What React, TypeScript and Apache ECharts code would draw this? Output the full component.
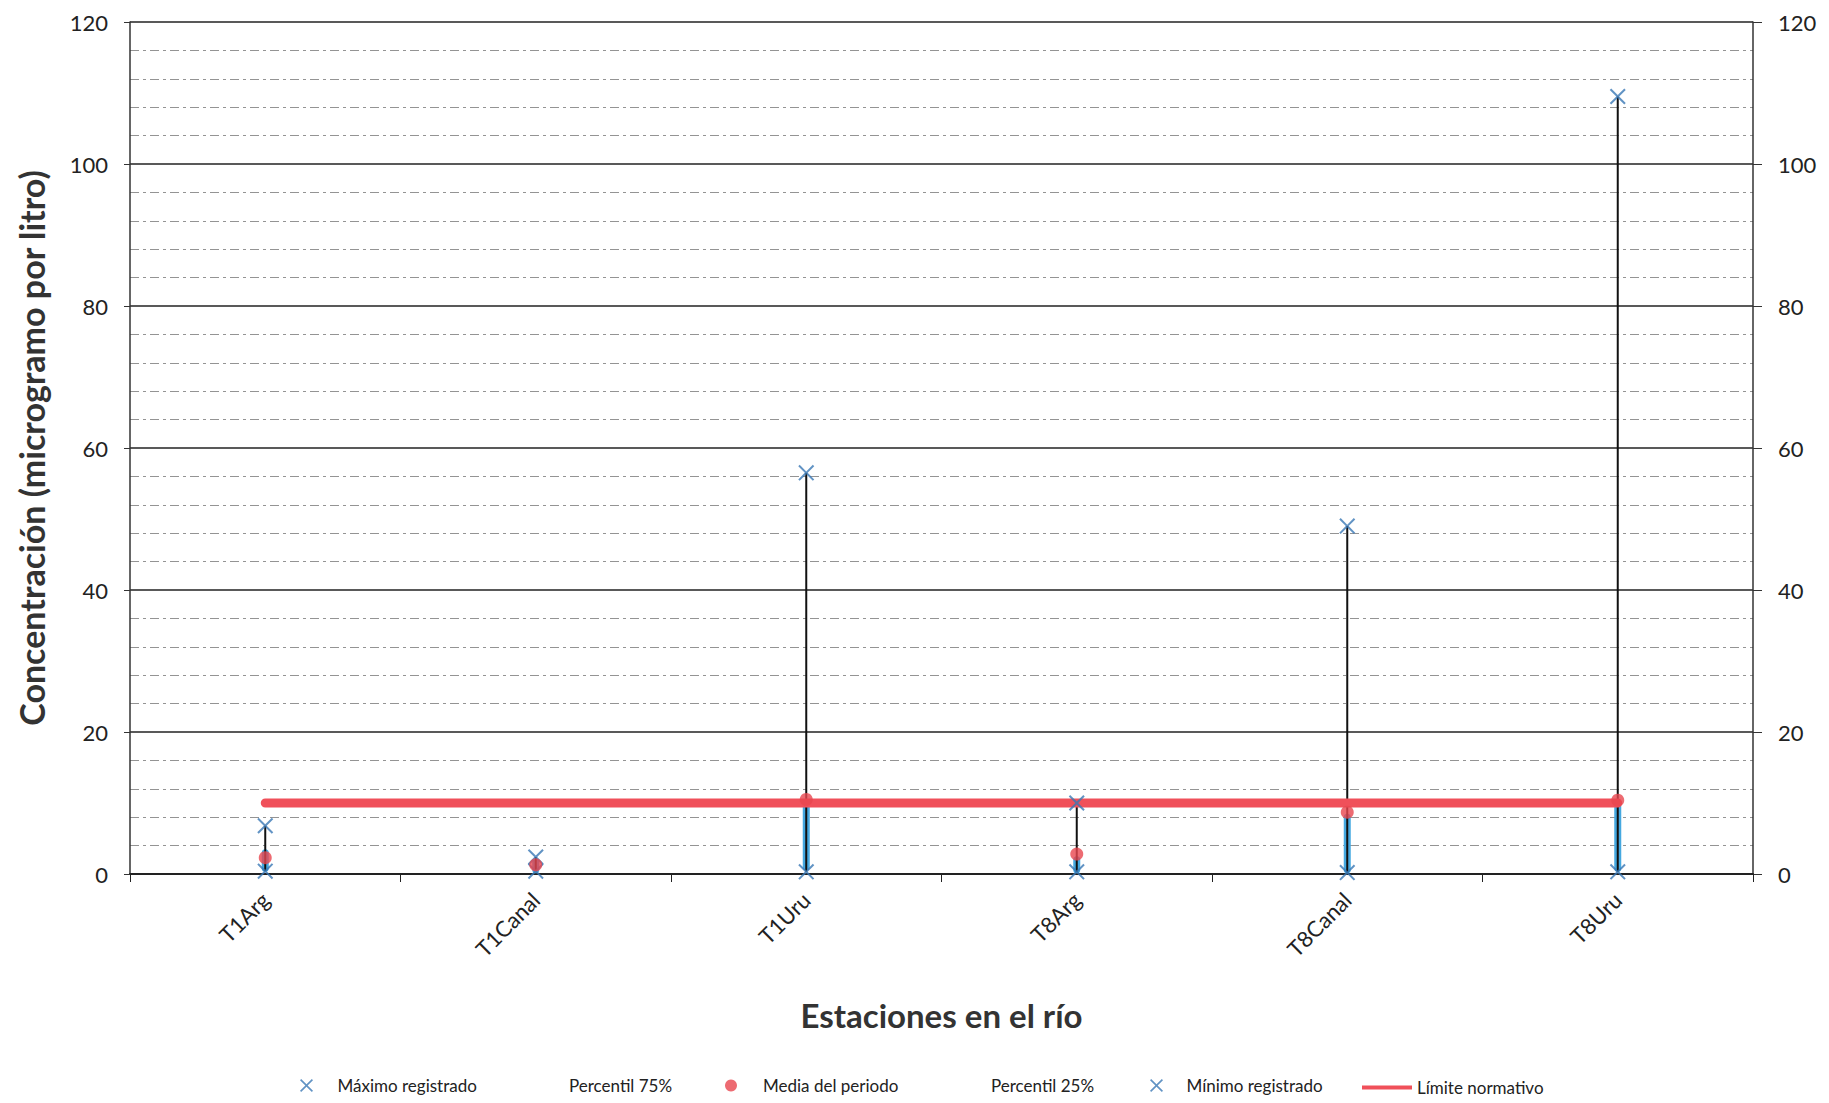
import React, { useEffect, useRef } from "react";
import * as echarts from "echarts";

const categories = ["T1Arg", "T1Canal", "T1Uru", "T8Arg", "T8Canal", "T8Uru"];
const maxValues = [6.8, 2.4, 56.5, 10, 49, 109.5];
const p75Values = [3, 1.6, 9.5, 2, 8, 9.5];
const meanValues = [2.3, 1.3, 10.5, 2.8, 8.7, 10.4];
const p25Values = [0.8, 0.6, 1, 0.6, 0.6, 0.8];
const minValues = [0.4, 0.4, 0.3, 0.3, 0.2, 0.3];
const limitValues = [10, 10, 10, 10, 10, 10];

const seriesNames = [
  "Máximo registrado",
  "Percentil 75%",
  "Media del periodo",
  "Percentil 25%",
  "Mínimo registrado",
  "Límite normativo",
];

const X_PATH =
  "path://M0,1.8L1.8,0L10,8.2L18.2,0L20,1.8L11.8,10L20,18.2L18.2,20L10,11.8L1.8,20L0,18.2L8.2,10Z";

const FONT = "Lato";

export default function App() {
  const ref = useRef<HTMLDivElement>(null);

  useEffect(() => {
    document.body.style.margin = "0";
    document.body.style.overflow = "hidden";
    if (!ref.current) return;
    const chart = echarts.init(ref.current, null, { renderer: "svg" });

    const rangeData = categories.map((_, i) => [
      i,
      minValues[i],
      maxValues[i],
      p25Values[i],
      p75Values[i],
    ]);

    const legendText = { fontFamily: FONT, fontSize: 17, color: "#222" };

    const option: any = {
      animation: false,
      backgroundColor: "#fff",
      textStyle: { fontFamily: FONT },
      grid: { left: 130, right: 76, top: 22, bottom: 229, containLabel: false },
      legend: [
        {
          data: [{ name: seriesNames[0], icon: X_PATH }],
          left: 300,
          top: 1077,
          padding: 0,
          itemWidth: 52,
          itemHeight: 13,
          textStyle: legendText,
          selectedMode: false,
        },
        {
          data: [{ name: seriesNames[1], icon: "none" }],
          left: 539,
          top: 1077,
          padding: 0,
          itemWidth: 25,
          itemHeight: 12,
          textStyle: legendText,
          selectedMode: false,
        },
        {
          data: [{ name: seriesNames[2], icon: "circle" }],
          left: 725,
          top: 1077,
          padding: 0,
          itemWidth: 54,
          itemHeight: 12,
          textStyle: legendText,
          selectedMode: false,
        },
        {
          data: [{ name: seriesNames[3], icon: "none" }],
          left: 961,
          top: 1077,
          padding: 0,
          itemWidth: 25,
          itemHeight: 12,
          textStyle: legendText,
          selectedMode: false,
        },
        {
          data: [{ name: seriesNames[4], icon: X_PATH }],
          left: 1150,
          top: 1077,
          padding: 0,
          itemWidth: 50,
          itemHeight: 13,
          textStyle: legendText,
          selectedMode: false,
        },
        {
          data: [{ name: seriesNames[5], icon: "rect" }],
          left: 1362,
          top: 1079,
          padding: 0,
          itemWidth: 50,
          itemHeight: 4,
          textStyle: legendText,
          selectedMode: false,
        },
      ],
      xAxis: {
        type: "category",
        data: categories,
        boundaryGap: true,
        name: "Estaciones en el río",
        nameLocation: "middle",
        nameGap: 124,
        nameTextStyle: {
          fontFamily: FONT,
          fontWeight: "bold",
          fontSize: 33,
          color: "#333",
        },
        axisLine: { show: true, lineStyle: { color: "#222", width: 2 } },
        axisTick: { show: true, alignWithLabel: false, length: 8, lineStyle: { color: "#222" } },
        axisLabel: {
          rotate: 45,
          fontSize: 22,
          color: "#222",
          margin: 22,
          fontFamily: FONT,
        },
        splitLine: { show: false },
      },
      yAxis: [
        {
          type: "value",
          min: 0,
          max: 120,
          interval: 20,
          position: "left",
          name: "Concentración (microgramo por litro)",
          nameLocation: "middle",
          nameGap: 82,
          nameTextStyle: {
            fontFamily: FONT,
            fontWeight: "bold",
            fontSize: 34,
            color: "#333",
          },
          axisLine: { show: true, lineStyle: { color: "#333", width: 1.5 } },
          axisTick: { show: true, inside: false, length: 6, lineStyle: { color: "#333" } },
          axisLabel: { fontSize: 22, color: "#222", margin: 22, fontFamily: FONT },
          splitLine: { show: true, lineStyle: { color: "#222", width: 1.5 } },
          minorTick: { show: false, splitNumber: 5 },
          minorSplitLine: {
            show: true,
            lineStyle: { color: "#666", width: 1, type: [9, 4, 3, 4], opacity: 0.7 },
          },
        },
        {
          type: "value",
          min: 0,
          max: 120,
          interval: 20,
          position: "right",
          axisLine: { show: true, lineStyle: { color: "#333", width: 1.5 } },
          axisTick: { show: true, inside: false, length: 9, lineStyle: { color: "#333" } },
          axisLabel: { fontSize: 22, color: "#222", margin: 25, fontFamily: FONT },
          splitLine: { show: false },
        },
      ],
      series: [
        {
          type: "custom",
          name: "rango",
          data: rangeData,
          encode: { x: 0, y: [1, 2, 3, 4] },
          z: 2,
          renderItem: (params: any, api: any) => {
            const i = api.value(0);
            const pMin = api.coord([i, api.value(1)]);
            const pMax = api.coord([i, api.value(2)]);
            const p25 = api.coord([i, api.value(3)]);
            const p75 = api.coord([i, api.value(4)]);
            return {
              type: "group",
              children: [
                {
                  type: "line",
                  shape: { x1: p25[0], y1: p25[1], x2: p75[0], y2: p75[1] },
                  style: { stroke: "#45a8e0", lineWidth: 7, lineCap: "round" },
                },
                {
                  type: "line",
                  shape: { x1: pMin[0], y1: pMin[1], x2: pMax[0], y2: pMax[1] },
                  style: { stroke: "#111", lineWidth: 2 },
                },
              ],
            };
          },
        },
        {
          type: "line",
          name: seriesNames[5],
          data: limitValues,
          symbol: "none",
          z: 3,
          itemStyle: { color: "#f0505a" },
          lineStyle: { color: "#f0505a", width: 9, cap: "round" },
        },
        {
          type: "scatter",
          name: seriesNames[1],
          data: p75Values,
          symbol: "none",
          z: 1,
          itemStyle: { color: "#45a8e0" },
        },
        {
          type: "scatter",
          name: seriesNames[3],
          data: p25Values,
          symbol: "none",
          z: 1,
          itemStyle: { color: "#45a8e0" },
        },
        {
          type: "scatter",
          name: seriesNames[0],
          data: maxValues,
          symbol: X_PATH,
          symbolSize: 16,
          symbolKeepAspect: true,
          z: 5,
          itemStyle: { color: "#3a78b5" },
        },
        {
          type: "scatter",
          name: seriesNames[4],
          data: minValues,
          symbol: X_PATH,
          symbolSize: 16,
          symbolKeepAspect: true,
          z: 5,
          itemStyle: { color: "#3a78b5" },
        },
        {
          type: "scatter",
          name: seriesNames[2],
          data: meanValues,
          symbol: "circle",
          symbolSize: 13,
          z: 6,
          itemStyle: { color: "#e8464f" },
        },
      ],
    };

    chart.setOption(option);
    return () => chart.dispose();
  }, []);

  return <div ref={ref} style={{ width: 1829, height: 1103 }} />;
}
